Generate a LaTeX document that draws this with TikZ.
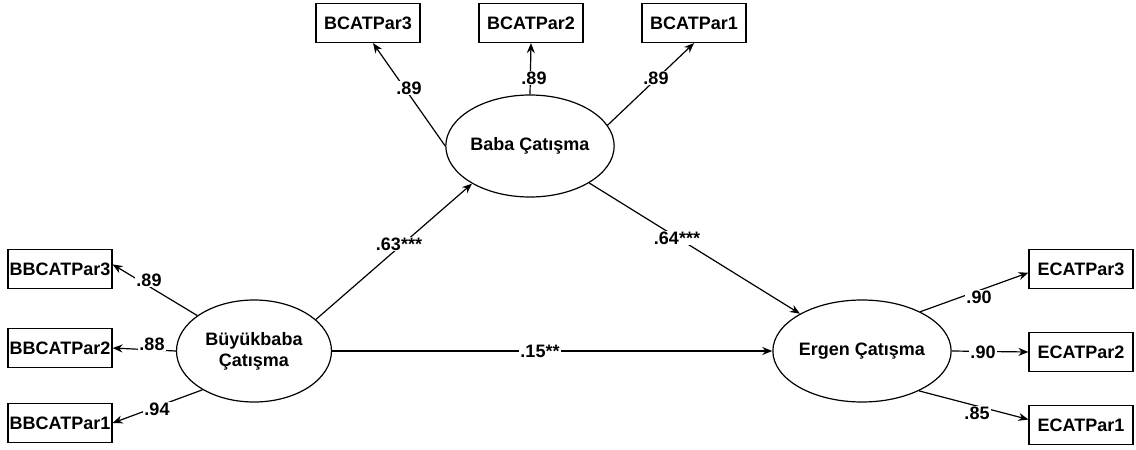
\documentclass[tikz,border=0pt]{standalone}
\usepackage{fontspec}
\setmainfont{Liberation Sans}
\usetikzlibrary{shapes.geometric,arrows.meta}

\begin{document}
\begin{tikzpicture}[x=1pt,y=-1pt,line width=1.2pt,
  obs/.style={draw,rectangle,minimum width=104pt,minimum height=39pt,inner sep=0pt,font=\bfseries\fontsize{18}{21}\selectfont},
  lat/.style={draw,ellipse,minimum width=155pt,minimum height=102pt,inner sep=0pt,align=center,font=\bfseries\fontsize{18}{21}\selectfont},
  load/.style={-{Stealth[length=10pt,width=8pt]}},
  coef/.style={fill=white,inner sep=1pt,font=\bfseries\fontsize{18}{21}\selectfont}]

\useasboundingbox (0,0) rectangle (1136,450);

%latent variables
\node[lat] at (530, 146) (baba) {Baba Çatışma};
\node[lat] at (254, 351) (bb) {Büyükbaba\\Çatışma};
\node[lat] at (862, 351) (ergen) {Ergen Çatışma};

%indicators
\node[obs] at (368, 23) (bc3) {BCATPar3};
\node[obs] at (531, 23) (bc2) {BCATPar2};
\node[obs] at (694, 23) (bc1) {BCATPar1};

\node[obs] at (60, 269) (bb3) {BBCATPar3};
\node[obs] at (60, 348) (bb2) {BBCATPar2};
\node[obs] at (60, 423) (bb1) {BBCATPar1};

\node[obs] at (1081, 269) (ec3) {ECATPar3};
\node[obs] at (1081, 352) (ec2) {ECATPar2};
\node[obs] at (1081, 425) (ec1) {ECATPar1};

%loadings
\draw[load] (baba.west) -- (bc3.-76);
\draw[load] (baba.north) -- (bc2.south);
\draw[load] (baba.15) -- (bc1.south);

\draw[load] (bb.148) -- (bb3.5);
\draw[load] (bb.west) -- (bb2.east);
\draw[load] (bb.217) -- (bb1.east);

\draw[load] (ergen.34) -- (ec3.184);
\draw[load] (ergen.east) -- (ec2.west);
\draw[load] (ergen.-35) -- (ec1.174);

%structural paths
\draw[load] (bb.27) -- (baba.213);
\draw[load] (baba.328) -- (ergen.149);
\draw[load] (bb.east) -- (ergen.west);

%coefficients
\node[coef] at (409, 88) (k1) {.89};
\node[coef] at (534, 78) (k2) {.89};
\node[coef] at (656, 78) (k3) {.89};

\node[coef] at (149, 280) (k4) {.89};
\node[coef] at (152, 344) (k5) {.88};
\node[coef] at (157, 409) (k6) {.94};

\node[coef] at (979, 297) (k7) {.90};
\node[coef] at (983, 352) (k8) {.90};
\node[coef] at (977, 413) (k9) {.85};

\node[coef] at (399, 244) (k10) {.63***};
\node[coef] at (677, 238) (k11) {.64***};
\node[coef] at (540, 351) (k12) {.15**};

\end{tikzpicture}
\end{document}
